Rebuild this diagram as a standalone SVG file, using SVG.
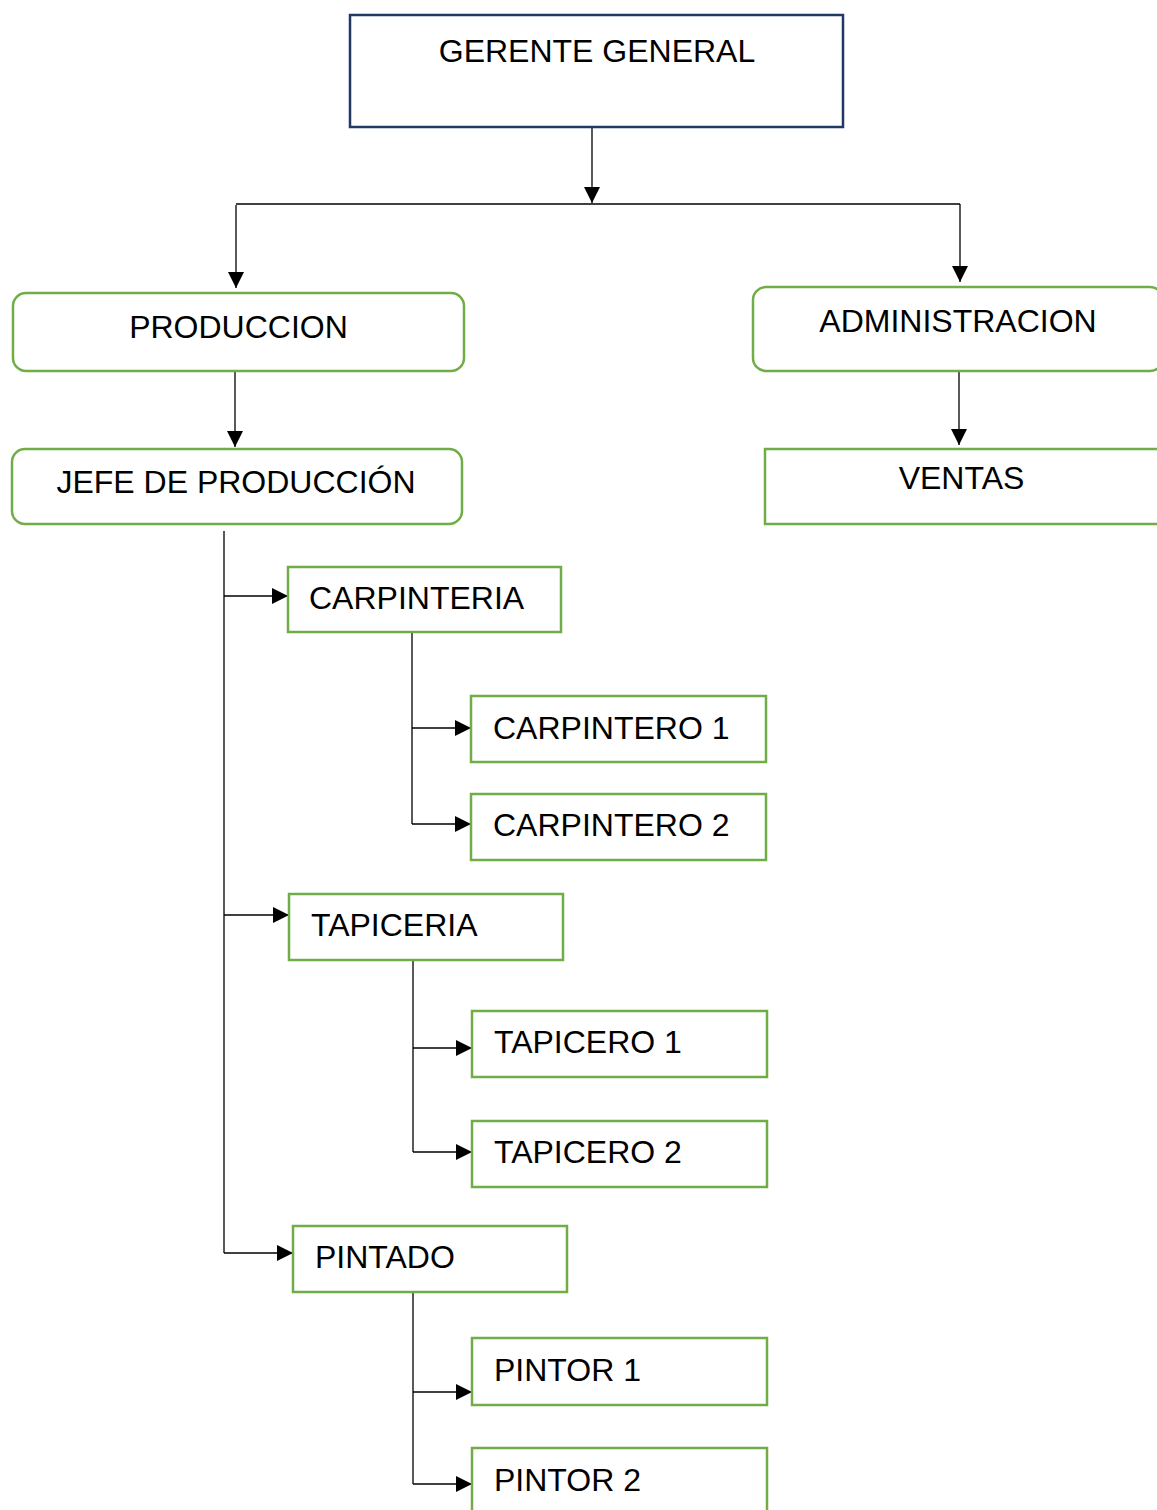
<svg xmlns="http://www.w3.org/2000/svg" width="1157" height="1510" viewBox="0 0 1157 1510">
<style>
text{font-family:"Liberation Sans",Arial,sans-serif;font-size:32px;fill:#000}
.c{text-anchor:middle}
.g{fill:#fff;stroke:#70ad47;stroke-width:2.5}
.n{fill:#fff;stroke:#1f3864;stroke-width:2.5}
.ln{fill:none;stroke:#000;stroke-width:1.3}
</style>
<defs>
<marker id="ah" markerUnits="userSpaceOnUse" markerWidth="16" markerHeight="16" viewBox="0 0 16 16" refX="16" refY="8" orient="auto">
<path d="M0,0 L16,8 L0,16 Z" fill="#000"/>
</marker>
</defs>
<rect width="1157" height="1510" fill="#fff"/>
<g id="connectors">
<path class="ln" d="M592,127 V203" marker-end="url(#ah)"/>
<path class="ln" d="M236,204 H960"/>
<path class="ln" d="M236,205 V288" marker-end="url(#ah)"/>
<path class="ln" d="M960,204 V282" marker-end="url(#ah)"/>
<path class="ln" d="M235,371 V447" marker-end="url(#ah)"/>
<path class="ln" d="M959,369 V445" marker-end="url(#ah)"/>
<path class="ln" d="M224,531 V1253"/>
<path class="ln" d="M224,596 H288" marker-end="url(#ah)"/>
<path class="ln" d="M224,915 H289" marker-end="url(#ah)"/>
<path class="ln" d="M224,1253 H293" marker-end="url(#ah)"/>
<path class="ln" d="M412,632 V824"/>
<path class="ln" d="M412,728 H471" marker-end="url(#ah)"/>
<path class="ln" d="M412,824 H471" marker-end="url(#ah)"/>
<path class="ln" d="M413,960 V1152"/>
<path class="ln" d="M413,1048 H472" marker-end="url(#ah)"/>
<path class="ln" d="M413,1152 H472" marker-end="url(#ah)"/>
<path class="ln" d="M413,1292 V1484"/>
<path class="ln" d="M413,1392 H472" marker-end="url(#ah)"/>
<path class="ln" d="M413,1484 H472" marker-end="url(#ah)"/>
</g>
<g id="gerente"><rect class="n" x="350" y="15" width="493" height="112"/><text class="c" x="597" y="62">GERENTE GENERAL</text></g>
<g id="produccion"><rect class="g" x="13" y="293" width="451" height="78" rx="13"/><text class="c" x="238.5" y="338">PRODUCCION</text></g>
<g id="administracion"><rect class="g" x="753" y="287" width="410" height="84" rx="13"/><text class="c" x="958" y="332">ADMINISTRACION</text></g>
<g id="jefe"><rect class="g" x="12" y="449" width="450" height="75" rx="13"/><text class="c" x="236" y="493">JEFE DE PRODUCCIÓN</text></g>
<g id="ventas"><rect class="g" x="765" y="449" width="400" height="75"/><text class="c" x="961.5" y="489">VENTAS</text></g>
<g id="carpinteria"><rect class="g" x="288" y="567" width="273" height="65"/><text x="309" y="609">CARPINTERIA</text></g>
<g id="carpintero1"><rect class="g" x="471" y="696" width="295" height="66"/><text x="493" y="739">CARPINTERO 1</text></g>
<g id="carpintero2"><rect class="g" x="471" y="794" width="295" height="66"/><text x="493" y="836">CARPINTERO 2</text></g>
<g id="tapiceria"><rect class="g" x="289" y="894" width="274" height="66"/><text x="311" y="936">TAPICERIA</text></g>
<g id="tapicero1"><rect class="g" x="472" y="1011" width="295" height="66"/><text x="494" y="1053">TAPICERO 1</text></g>
<g id="tapicero2"><rect class="g" x="472" y="1121" width="295" height="66"/><text x="494" y="1163">TAPICERO 2</text></g>
<g id="pintado"><rect class="g" x="293" y="1226" width="274" height="66"/><text x="315" y="1268">PINTADO</text></g>
<g id="pintor1"><rect class="g" x="472" y="1338" width="295" height="67"/><text x="494" y="1381">PINTOR 1</text></g>
<g id="pintor2"><rect class="g" x="472" y="1448" width="295" height="80"/><text x="494" y="1491">PINTOR 2</text></g>
</svg>
